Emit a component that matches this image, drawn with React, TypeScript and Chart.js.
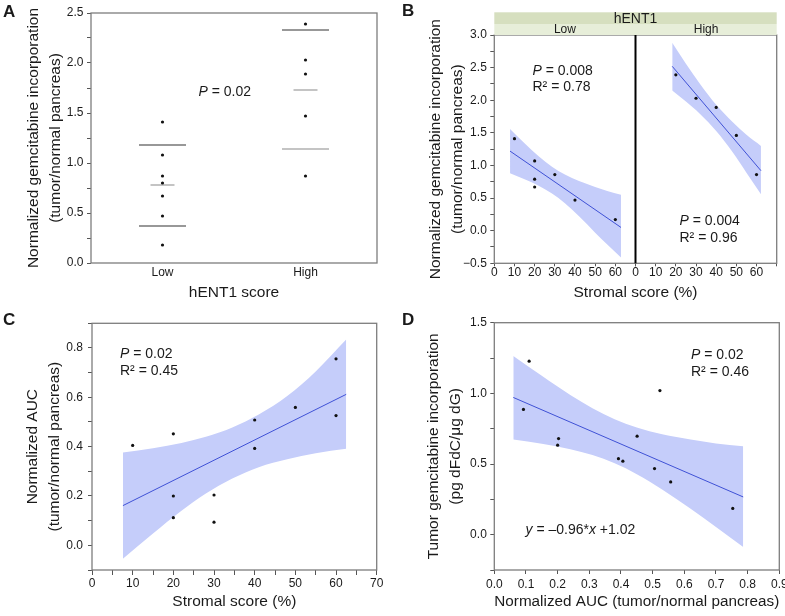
import React, { useEffect, useRef } from 'react';
import { Chart, registerables } from 'chart.js';

Chart.register(...registerables);

const FONT = "'Liberation Sans', Arial, Helvetica, sans-serif";
const TEXT = '#1a1a1a';
const TICK = '#555555';
const FRAME = '#7d7d7d';
const BAND = '#c5cdfa';
const FIT = '#3f51d6';

Chart.defaults.font.family = FONT;
Chart.defaults.color = TEXT;

// ---------- Panel A ----------
const A_CATEGORIES = ['Low', 'High'];
const A_LOW = [1.41, 1.08, 0.87, 0.8, 0.67, 0.47, 0.18];
const A_HIGH = [2.39, 2.03, 1.89, 1.47, 0.87];
const A_LOW_STATS = [1.18, 0.78, 0.37]; // mean+SD, mean, mean-SD
const A_HIGH_STATS = [2.33, 1.73, 1.14];

// ---------- Panel B ----------
const B_LOW_X = [10, 20, 20, 20, 30, 40, 60];
const B_LOW_Y = [1.41, 1.07, 0.79, 0.67, 0.86, 0.47, 0.17];
const B_LOW_FIT_X = [7.8, 62.8];
const B_LOW_FIT_Y = [1.22, 0.05];
const B_LOW_BAND_X = [7.8, 15, 22, 28.6, 35, 42, 50, 56, 62.8];
const B_LOW_BAND_UP = [1.56, 1.34, 1.14, 0.98, 0.86, 0.76, 0.67, 0.61, 0.55];
const B_LOW_BAND_LO = [0.88, 0.79, 0.69, 0.57, 0.42, 0.22, -0.03, -0.21, -0.41];

const B_HIGH_X = [20, 30, 40, 50, 60];
const B_HIGH_Y = [2.39, 2.03, 1.89, 1.46, 0.86];
const B_HIGH_FIT_X = [18.2, 62.2];
const B_HIGH_FIT_Y = [2.52, 0.92];
const B_HIGH_BAND_X = [18.2, 25, 32, 40, 48, 55, 62.2];
const B_HIGH_BAND_UP = [2.88, 2.56, 2.25, 1.93, 1.67, 1.47, 1.3];
const B_HIGH_BAND_LO = [2.15, 1.98, 1.79, 1.53, 1.21, 0.89, 0.56];

// ---------- Panel C ----------
const C_X = [10, 20, 20, 20, 30, 30, 40, 40, 50, 60, 60];
const C_Y = [0.405, 0.452, 0.2, 0.112, 0.204, 0.094, 0.508, 0.393, 0.559, 0.756, 0.526];
const C_FIT_X = [7.6, 62.5];
const C_FIT_Y = [0.161, 0.612];
const C_BAND_X = [7.6, 15, 22, 28, 34.5, 41, 48, 55, 62.5];
const C_BAND_UP = [0.376, 0.394, 0.415, 0.44, 0.478, 0.53, 0.605, 0.705, 0.834];
const C_BAND_LO = [-0.054, 0.048, 0.14, 0.21, 0.271, 0.317, 0.349, 0.373, 0.391];

// ---------- Panel D ----------
const D_X = [0.092, 0.11, 0.203, 0.2, 0.392, 0.406, 0.451, 0.523, 0.506, 0.557, 0.753];
const D_Y = [0.886, 1.228, 0.68, 0.633, 0.538, 0.52, 0.697, 1.02, 0.468, 0.373, 0.186];
const D_FIT_X = [0.06, 0.786];
const D_FIT_Y = [0.971, 0.267];
const D_BAND_X = [0.06, 0.15, 0.24, 0.31, 0.38, 0.45, 0.53, 0.62, 0.7, 0.786];
const D_BAND_UP = [1.264, 1.124, 0.988, 0.895, 0.817, 0.758, 0.71, 0.673, 0.646, 0.626];
const D_BAND_LO = [0.673, 0.644, 0.604, 0.563, 0.505, 0.428, 0.32, 0.183, 0.054, -0.088];

// ---------- helpers ----------
const zip = (xs: number[], ys: number[]) => xs.map((x, i) => ({ x, y: ys[i] }));
const isMultiple = (v: number, m: number) => Math.abs(Math.round(v / m) * m - v) < 1e-6;
const fmt1 = (v: number) => (Math.abs(v) < 1e-9 ? '0.0' : v.toFixed(1).replace('-', '\u2212'));

const tickFont = (lh = 1.2) => ({ family: FONT, size: 12, lineHeight: lh });
const titleFont = (lh: number) => ({ family: FONT, size: 15.5, lineHeight: lh });

function yAxis(o: any) {
  return {
    type: 'linear',
    position: 'left',
    min: o.min,
    max: o.max,
    afterFit: (s: any) => {
      s.width = o.width;
    },
    ticks: {
      stepSize: o.step,
      maxTicksLimit: 100,
      autoSkip: false,
      padding: o.pad ?? 3.5,
      color: TEXT,
      font: tickFont(),
      callback: (v: number) => (isMultiple(v, o.every) ? fmt1(v) : ''),
    },
    grid: { drawOnChartArea: false, drawTicks: true, tickLength: 4, color: TICK, lineWidth: 1 },
    border: { display: false },
    title: {
      display: true,
      text: o.title,
      color: TEXT,
      font: titleFont(1.4),
      padding: { top: o.titlePad, bottom: 0 },
    },
  };
}

function xAxis(o: any) {
  return {
    type: 'linear',
    position: 'bottom',
    min: o.min,
    max: o.max,
    afterFit: (s: any) => {
      s.height = o.height;
    },
    ticks: {
      stepSize: o.step,
      maxTicksLimit: 100,
      autoSkip: false,
      maxRotation: 0,
      padding: o.pad,
      color: TEXT,
      font: tickFont(o.lh ?? 1.2),
      callback: o.cb,
    },
    grid: { drawOnChartArea: false, drawTicks: true, tickLength: o.tl, color: TICK, lineWidth: 1 },
    border: { display: false },
    title: o.title
      ? { display: true, text: o.title, color: TEXT, font: titleFont(1), padding: { top: 0, bottom: o.titlePad ?? 0 } }
      : { display: false },
  };
}

const pts = (data: any[], xAxisID?: string) => ({
  type: 'scatter',
  data,
  xAxisID,
  pointRadius: 1.6,
  pointBackgroundColor: '#111',
  pointBorderColor: '#111',
  pointBorderWidth: 0,
});
const fitLine = (data: any[], xAxisID?: string) => ({
  type: 'line',
  data,
  xAxisID,
  showLine: true,
  borderColor: FIT,
  borderWidth: 1,
  pointRadius: 0,
  fill: false,
});
const bandUp = (data: any[], xAxisID?: string) => ({
  type: 'line',
  data,
  xAxisID,
  showLine: true,
  borderColor: 'rgba(0,0,0,0)',
  borderWidth: 0,
  pointRadius: 0,
  fill: false,
  cubicInterpolationMode: 'monotone',
});
const bandLo = (data: any[], xAxisID?: string) => ({
  ...bandUp(data, xAxisID),
  fill: '-1',
  backgroundColor: BAND,
});

const framePlugin = {
  id: 'frame',
  afterDatasetsDraw(chart: any, _args: any, opts: any) {
    const { ctx, chartArea: a } = chart;
    ctx.save();
    ctx.strokeStyle = opts.color || FRAME;
    ctx.lineWidth = opts.width || 1.3;
    ctx.strokeRect(a.left, a.top, a.right - a.left, a.bottom - a.top);
    ctx.restore();
  },
};

const hentHeaderPlugin = {
  id: 'hentHeader',
  afterDraw(chart: any) {
    const { ctx, chartArea: a, scales } = chart;
    const xL = scales.xL;
    const xR = scales.xR;
    ctx.save();
    ctx.fillStyle = '#d6dfbf';
    ctx.fillRect(a.left, 12.3, a.right - a.left, 11.7);
    ctx.fillStyle = '#e7eed9';
    ctx.fillRect(a.left, 24, a.right - a.left, a.top - 24);
    ctx.fillStyle = TEXT;
    ctx.textAlign = 'center';
    ctx.textBaseline = 'middle';
    ctx.font = `14px ${FONT}`;
    ctx.fillText('hENT1', (a.left + a.right) / 2, 19.5);
    ctx.font = `12px ${FONT}`;
    ctx.fillText('Low', (xL.left + xL.right) / 2, 29.5);
    ctx.fillText('High', (xR.left + xR.right) / 2, 29.5);
    ctx.strokeStyle = '#000';
    ctx.lineWidth = 2;
    ctx.beginPath();
    ctx.moveTo(xR.left, a.top);
    ctx.lineTo(xR.left, a.bottom);
    ctx.stroke();
    ctx.restore();
  },
};

const baseOptions = (padding: any) => ({
  responsive: false,
  animation: false,
  devicePixelRatio: 1,
  events: [],
  layout: { padding, autoPadding: false },
  plugins: { legend: { display: false }, tooltip: { enabled: false }, frame: {} },
});

// ---------- configs ----------
function configA(): any {
  const statColors = ['#333', '#8a8a8a', '#333', '#333', '#8a8a8a', '#8a8a8a'];
  return {
    type: 'scatter',
    data: {
      datasets: [
        pts([...A_LOW.map((y) => ({ x: 'Low', y })), ...A_HIGH.map((y) => ({ x: 'High', y }))]),
        {
          type: 'scatter',
          data: [...A_LOW_STATS.map((y) => ({ x: 'Low', y })), ...A_HIGH_STATS.map((y) => ({ x: 'High', y }))],
          pointStyle: 'line',
          pointRadius: (c: any) => (c.dataIndex % 3 === 1 ? 12 : 23.5),
          pointBorderColor: statColors,
          pointBorderWidth: 1.1,
          pointBackgroundColor: 'rgba(0,0,0,0)',
        },
      ],
    },
    options: {
      ...baseOptions({ left: 0, right: 15, top: 13, bottom: 0 }),
      scales: {
        x: {
          type: 'category',
          labels: A_CATEGORIES,
          offset: true,
          position: 'bottom',
          afterFit: (s: any) => {
            s.height = 37;
          },
          ticks: { padding: 2.8, color: TEXT, font: tickFont() },
          grid: { display: false, drawTicks: false },
          border: { display: false },
          title: { display: true, text: 'hENT1 score', color: TEXT, font: titleFont(1), padding: 0 },
        },
        y: yAxis({
          min: 0,
          max: 2.5,
          step: 0.25,
          every: 0.5,
          width: 91,
          title: ['Normalized gemcitabine incorporation', '(tumor/normal pancreas)'],
          titlePad: 23,
        }),
      },
    },
    plugins: [framePlugin],
  };
}

function configB(): any {
  const bx = () => ({
    ...xAxis({
      min: 0,
      max: 70,
      step: 10,
      height: 20,
      tl: 3,
      pad: 0,
      lh: 1,
      cb: (v: number) => (v >= 70 ? '' : String(v)),
    }),
    stack: 'bx',
    stackWeight: 1,
  });
  return {
    type: 'scatter',
    data: {
      datasets: [
        pts(zip(B_LOW_X, B_LOW_Y), 'xL'),
        pts(zip(B_HIGH_X, B_HIGH_Y), 'xR'),
        fitLine(zip(B_LOW_FIT_X, B_LOW_FIT_Y), 'xL'),
        fitLine(zip(B_HIGH_FIT_X, B_HIGH_FIT_Y), 'xR'),
        bandUp(zip(B_LOW_BAND_X, B_LOW_BAND_UP), 'xL'),
        bandLo(zip(B_LOW_BAND_X, B_LOW_BAND_LO), 'xL'),
        bandUp(zip(B_HIGH_BAND_X, B_HIGH_BAND_UP), 'xR'),
        bandLo(zip(B_HIGH_BAND_X, B_HIGH_BAND_LO), 'xR'),
      ],
    },
    options: {
      ...baseOptions({ left: 0, right: 8.3, top: 35, bottom: 0 }),
      scales: {
        xL: bx(),
        xR: bx(),
        xT: {
          type: 'linear',
          position: 'bottom',
          weight: 1,
          afterFit: (s: any) => {
            s.height = 16.7;
          },
          ticks: { display: false },
          grid: { display: false, drawTicks: false },
          border: { display: false },
          title: { display: true, text: 'Stromal score (%)', color: TEXT, font: titleFont(1), padding: 0 },
        },
        y: yAxis({
          min: -0.5,
          max: 3.0,
          step: 0.25,
          every: 0.5,
          width: 102.3,
          title: ['Normalized gemcitabine incorporation', '(tumor/normal pancreas)'],
          titlePad: 33,
        }),
      },
    },
    plugins: [framePlugin, hentHeaderPlugin],
  };
}

function configC(): any {
  return {
    type: 'scatter',
    data: {
      datasets: [
        pts(zip(C_X, C_Y)),
        fitLine(zip(C_FIT_X, C_FIT_Y)),
        bandUp(zip(C_BAND_X, C_BAND_UP)),
        bandLo(zip(C_BAND_X, C_BAND_LO)),
      ],
    },
    options: {
      ...baseOptions({ left: 0, right: 15.3, top: 23.3, bottom: 0 }),
      scales: {
        x: xAxis({
          min: 0,
          max: 70,
          step: 5,
          height: 46,
          tl: 5,
          pad: 1.8,
          cb: (v: number) => (isMultiple(v, 10) ? String(Math.round(v)) : ''),
          title: 'Stromal score (%)',
          titlePad: 6.5,
        }),
        y: yAxis({
          min: -0.1,
          max: 0.9,
          step: 0.1,
          every: 0.2,
          width: 92,
          pad: 5,
          title: ['Normalized AUC', '(tumor/normal pancreas)'],
          titlePad: 22,
        }),
      },
    },
    plugins: [framePlugin],
  };
}

function configD(): any {
  return {
    type: 'scatter',
    data: {
      datasets: [
        pts(zip(D_X, D_Y)),
        fitLine(zip(D_FIT_X, D_FIT_Y)),
        bandUp(zip(D_BAND_X, D_BAND_UP)),
        bandLo(zip(D_BAND_X, D_BAND_LO)),
      ],
    },
    options: {
      ...baseOptions({ left: 0, right: 14.7, top: 22.7, bottom: 0 }),
      scales: {
        x: xAxis({
          min: 0,
          max: 0.9,
          step: 0.1,
          height: 46,
          tl: 4,
          pad: 3.8,
          cb: (v: number) => fmt1(v),
          title: 'Normalized AUC (tumor/normal pancreas)',
          titlePad: 6.5,
        }),
        y: yAxis({
          min: -0.25,
          max: 1.5,
          step: 0.25,
          every: 0.5,
          width: 102.3,
          title: ['Tumor gemcitabine incorporation', '(pg dFdC/\u03bcg dG)'],
          titlePad: 31,
        }),
      },
    },
    plugins: [framePlugin],
  };
}

function ChartCanvas({ make, left, top, width, height }: any) {
  const ref = useRef<HTMLCanvasElement>(null);
  useEffect(() => {
    const chart = new Chart(ref.current as HTMLCanvasElement, make());
    return () => chart.destroy();
  }, []);
  return (
    <canvas
      ref={ref}
      width={width}
      height={height}
      style={{ position: 'absolute', left, top, width, height, display: 'block' }}
    />
  );
}

function Ann({ left, top, children, size = 14, bold = false }: any) {
  return (
    <div
      style={{
        position: 'absolute',
        left,
        top,
        fontSize: size,
        lineHeight: `${size * 1.2}px`,
        fontWeight: bold ? 700 : 400,
        whiteSpace: 'nowrap',
        color: TEXT,
        fontFamily: FONT,
      }}
    >
      {children}
    </div>
  );
}

export default function App() {
  return (
    <div
      style={{
        position: 'relative',
        width: 785,
        height: 616,
        overflow: 'hidden',
        background: '#fff',
        fontFamily: FONT,
      }}
    >
      <style>{'html,body{margin:0;padding:0;background:#fff;}'}</style>
      <ChartCanvas make={configA} left={0} top={0} width={392} height={300} />
      <ChartCanvas make={configB} left={392} top={0} width={393} height={300} />
      <ChartCanvas make={configC} left={0} top={300} width={392} height={316} />
      <ChartCanvas make={configD} left={392} top={300} width={402} height={316} />

      <Ann left={3} top={1.7} size={17} bold>A</Ann>
      <Ann left={402} top={0.8} size={17} bold>B</Ann>
      <Ann left={3} top={310} size={17} bold>C</Ann>
      <Ann left={402} top={310} size={17} bold>D</Ann>

      <Ann left={198.5} top={82.6}>
        <i>P</i> = 0.02
      </Ann>

      <Ann left={532.5} top={61.8}>
        <i>P</i> = 0.008
      </Ann>
      <Ann left={532.5} top={77.6}>
        R² = 0.78
      </Ann>
      <Ann left={679.5} top={211.8}>
        <i>P</i> = 0.004
      </Ann>
      <Ann left={679.5} top={229.3}>
        R² = 0.96
      </Ann>

      <Ann left={120} top={345.1}>
        <i>P</i> = 0.02
      </Ann>
      <Ann left={120} top={362.3}>
        R² = 0.45
      </Ann>

      <Ann left={691} top={345.6}>
        <i>P</i> = 0.02
      </Ann>
      <Ann left={691} top={362.8}>
        R² = 0.46
      </Ann>
      <Ann left={525.5} top={520.5}>
        <i>y</i> = –0.96*<i>x</i> +1.02
      </Ann>
    </div>
  );
}
